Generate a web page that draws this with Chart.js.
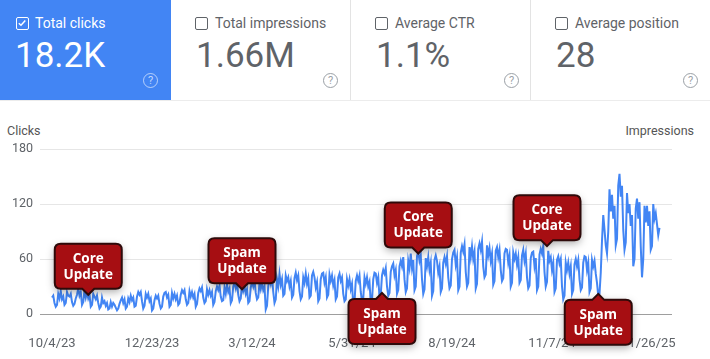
<!DOCTYPE html>
<html><head><meta charset="utf-8">
<script src="https://cdn.jsdelivr.net/npm/chart.js@4"></script>
<style>
body{margin:0;width:710px;height:359px;overflow:hidden;background:#fff;font-family:Roboto,Arial,sans-serif;position:relative;}
.card{position:absolute;top:0;height:100px;box-sizing:border-box;}
.lbl{position:absolute;top:14px;font-size:14px;line-height:18px;white-space:nowrap;}
.cb{position:absolute;top:17px;width:13px;height:13px;box-sizing:border-box;border:1.6px solid;border-radius:2px;}
.num{position:absolute;top:35px;font-size:35px;line-height:42px;white-space:nowrap;}
.help{position:absolute;top:73px;width:15px;height:15px;box-sizing:border-box;border:1.3px solid;border-radius:50%;font-size:11px;line-height:13px;text-align:center;}
.axt{position:absolute;top:123px;font-size:12.5px;color:#555;}
#wrap{position:absolute;left:0;top:100px;width:710px;height:259px;}
</style></head>
<body>
<div class="card" style="left:0;width:171px;background:#4285f4;color:#fff;">
  <div class="cb" style="left:16px;border-color:#fff;"><svg width="10" height="10" viewBox="0 0 10 10" style="position:absolute;left:0;top:0"><path d="M1.8 5.2 L4 7.3 L8.3 2.6" stroke="#fff" stroke-width="1.5" fill="none"/></svg></div>
  <div class="lbl" style="left:35px;">Total clicks</div>
  <div class="num" style="left:15px;">18.2K</div>
  <div class="help" style="left:143px;border-color:rgba(255,255,255,0.6);color:rgba(255,255,255,0.7);">?</div>
</div>
<div class="card" style="left:171px;width:179px;color:#5f6368;">
  <div class="cb" style="left:24px;border-color:#5f6368;"></div>
  <div class="lbl" style="left:44px;">Total impressions</div>
  <div class="num" style="left:25px;">1.66M</div>
  <div class="help" style="left:152px;border-color:#9aa0a6;color:#9aa0a6;">?</div>
</div>
<div class="card" style="left:350px;width:180px;border-left:1px solid #e3e3e3;color:#5f6368;">
  <div class="cb" style="left:24px;border-color:#5f6368;"></div>
  <div class="lbl" style="left:44px;">Average CTR</div>
  <div class="num" style="left:25px;">1.1%</div>
  <div class="help" style="left:153px;border-color:#9aa0a6;color:#9aa0a6;">?</div>
</div>
<div class="card" style="left:530px;width:180px;border-left:1px solid #e3e3e3;color:#5f6368;">
  <div class="cb" style="left:24px;border-color:#5f6368;"></div>
  <div class="lbl" style="left:44px;">Average position</div>
  <div class="num" style="left:25px;">28</div>
  <div class="help" style="left:152px;border-color:#9aa0a6;color:#9aa0a6;">?</div>
</div>
<div style="position:absolute;left:0;top:100px;width:710px;height:1px;background:#ececec;"></div>
<div class="axt" style="left:7px;">Clicks</div>
<div class="axt" style="right:16px;">Impressions</div>
<div id="wrap"><canvas id="c" width="710" height="259"></canvas></div>
<script>
// Daily clicks, starting 10/4/23 (one row per week)
const clicks = [
18,20,12,8,10,22,17,
25,16,19,10,12,24,20,
19,22,13,9,11,17,21,
28,20,24,10,13,26,18,
24,17,21,8,10,22,19,
16,20,12,6,8,18,12,
14,9,12,5,6,13,8,
12,10,7,4,6,11,15,
18,12,16,6,8,17,13,
20,15,18,8,9,19,24,
21,24,14,6,9,22,18,
22,14,17,4,6,15,20,
17,20,11,6,8,19,23,
24,18,21,8,10,23,17,
22,16,20,10,12,21,26,
23,26,16,10,12,25,19,
24,18,22,8,11,23,28,
25,29,18,12,14,27,21,
26,20,24,10,13,25,30,
26,31,19,14,15,29,22,
32,24,28,12,15,30,34,
28,35,21,14,17,32,25,
30,22,27,12,14,29,35,
30,37,23,16,18,34,27,
34,26,30,5,9,30,39,
33,41,24,12,16,38,30,
44,32,38,20,22,42,36,
40,30,36,18,21,39,45,
37,42,25,16,19,40,34,
44,33,39,18,20,42,46,
40,29,35,14,17,38,44,
45,34,40,18,21,43,36,
42,31,37,16,19,40,44,
36,40,22,14,16,38,31,
38,27,33,10,13,36,42,
36,42,24,14,17,40,33,
40,30,35,12,15,38,45,
44,34,40,18,21,42,48,
44,50,30,20,23,46,52,
55,42,48,22,26,52,58,
52,62,38,24,28,58,50,
66,50,59,26,30,63,68,
58,64,38,22,27,61,52,
62,48,56,20,25,59,64,
58,45,52,24,28,56,62,
55,63,40,28,31,60,67,
70,54,62,26,30,67,74,
68,76,46,30,34,73,62,
74,60,68,28,33,71,77,
70,79,52,40,43,75,64,
72,58,66,32,36,69,73,
62,70,48,36,39,66,71,
70,56,64,30,34,67,60,
66,54,62,34,37,64,70,
58,66,40,28,31,61,67,
68,52,61,26,30,65,71,
66,74,46,30,35,69,58,
62,48,56,24,28,59,63,
55,60,30,16,20,56,48,
56,44,52,22,26,54,60,
52,59,38,26,29,56,63,
62,48,56,24,28,59,52,
58,44,34,20,22,45,80,
108,92,75,66,90,136,112,
130,104,118,75,82,140,153,
128,140,92,70,78,132,110,
120,96,108,52,60,115,126,
104,122,74,40,60,118,100,
118,96,112,70,74,120,104,
110,98,86,94
];
const xTickDays = [0,80,160,240,320,400,480];
const xTickLabels = ['10/4/23','12/23/23','3/12/24','5/31/24','8/19/24','11/7/24','1/26/25'];
const yTicks = [0,60,120,180];
// annotations: anchor day, anchor value, first line, box above ('down') or below ('up')
const annDays   = [29,152,293,396,264,437];
const annValues = [21,27,66,74,23,22];
const annTitles = ['Core','Spam','Core','Core','Spam','Spam'];
const annDirs   = ['down','down','down','down','up','up'];

const annPlugin = {
  id:'ann',
  afterDatasetsDraw(chart){
    const ctx = chart.ctx, xs = chart.scales.x, ys = chart.scales.y;
    const W = 67, H = 45, P = 6, R = 6;
    for (let i=0;i<annDays.length;i++){
      const tx = xs.getPixelForValue(annDays[i]);
      const ty = ys.getPixelForValue(annValues[i]);
      const down = annDirs[i]==='down';
      const left = tx - W/2, right = tx + W/2;
      const top = down ? ty - P - H : ty + P;
      const bot = top + H;
      ctx.save();
      ctx.beginPath();
      ctx.moveTo(left+R, top);
      if (!down){ ctx.lineTo(tx-6, top); ctx.lineTo(tx, ty); ctx.lineTo(tx+6, top); }
      ctx.lineTo(right-R, top);
      ctx.quadraticCurveTo(right, top, right, top+R);
      ctx.lineTo(right, bot-R);
      ctx.quadraticCurveTo(right, bot, right-R, bot);
      if (down){ ctx.lineTo(tx+6, bot); ctx.lineTo(tx, ty); ctx.lineTo(tx-6, bot); }
      ctx.lineTo(left+R, bot);
      ctx.quadraticCurveTo(left, bot, left, bot-R);
      ctx.lineTo(left, top+R);
      ctx.quadraticCurveTo(left, top, left+R, top);
      ctx.closePath();
      ctx.shadowColor = 'rgba(0,0,0,0.35)';
      ctx.shadowBlur = 8; ctx.shadowOffsetY = 3;
      ctx.fillStyle = '#a60e12';
      ctx.fill();
      ctx.shadowColor = 'transparent';
      ctx.lineWidth = 2; ctx.strokeStyle = '#2e0a0a';
      ctx.stroke();
      ctx.fillStyle = '#fff';
      ctx.font = 'bold 13.5px "Open Sans", Lato, sans-serif';
      ctx.textAlign = 'center'; ctx.textBaseline = 'middle';
      ctx.fillText(annTitles[i], tx, top + 15);
      ctx.fillText('Update', tx, top + 31);
      ctx.restore();
    }
  }
};

new Chart(document.getElementById('c'), {
  type:'line',
  data:{ datasets:[{ data: clicks.map((v,i)=>({x:i,y:v})), borderColor:'#4285f4', borderWidth:2, pointRadius:0, tension:0, fill:false }]},
  options:{
    responsive:false, animation:false, devicePixelRatio:1,
    layout:{padding:{top:49,left:0,right:38,bottom:0}},
    plugins:{legend:{display:false}, tooltip:{enabled:false}},
    scales:{
      x:{type:'linear', min:-9.6, max:496,
         afterBuildTicks:s=>{s.ticks = xTickDays.map(v=>({value:v}));},
         ticks:{callback:v=>xTickLabels[xTickDays.indexOf(v)], color:'#5f6368', font:{family:'Roboto',size:13}, padding:14, maxRotation:0, autoSkip:false},
         grid:{display:false}, border:{display:false},
         afterFit:s=>{s.height=45;}},
      y:{position:'left', min:0, max:180,
         afterBuildTicks:s=>{s.ticks = yTicks.map(v=>({value:v}));},
         ticks:{color:'#5f6368', font:{family:'Roboto',size:12.5}, padding:7},
         grid:{color:c=>c.tick && c.tick.value===0 ? '#9e9e9e' : '#e6e6e6', drawTicks:false},
         border:{display:false},
         afterFit:s=>{s.width=40;}}
    }
  },
  plugins:[annPlugin]
});
</script>
</body></html>
